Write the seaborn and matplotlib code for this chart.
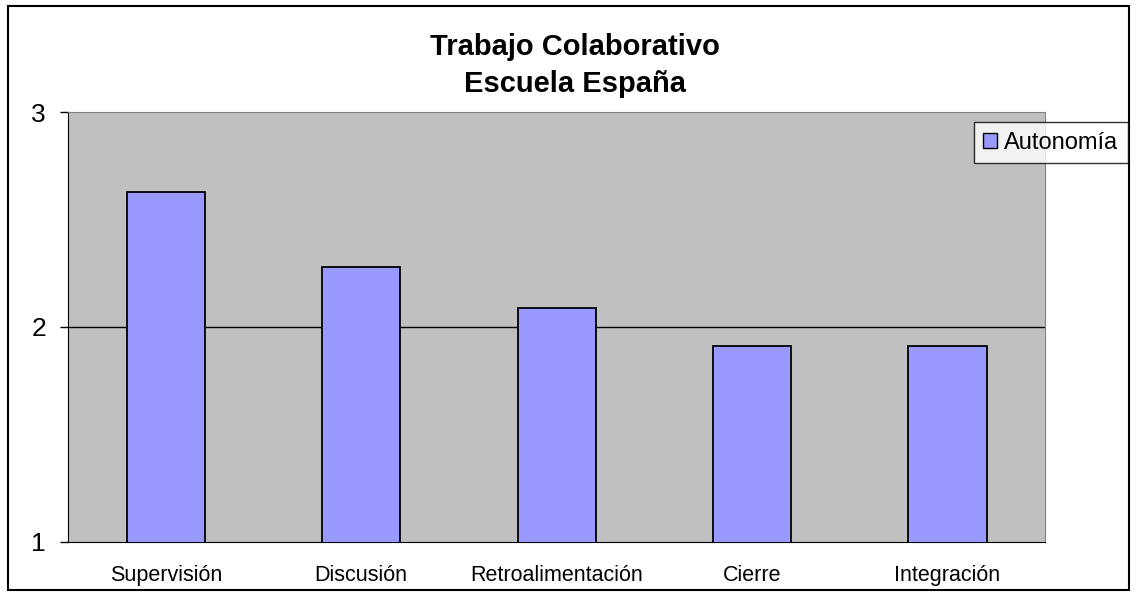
# -*- coding: UTF-8 -*-
import matplotlib
matplotlib.use("Agg")
import matplotlib.pyplot as plt
import matplotlib.patches as mpatches
import seaborn as sns

sns.set_style("white")
plt.rcParams['font.family'] = ['Liberation Sans', 'DejaVu Sans']
plt.rcParams['text.color'] = 'black'
plt.rcParams['xtick.color'] = 'black'
plt.rcParams['ytick.color'] = 'black'

categorias = ['Supervisión', 'Discusión', 'Retroalimentación', 'Cierre', 'Integración']
autonomia = [2.63, 2.28, 2.09, 1.91, 1.91]
serie = 'Autonomía'

fig = plt.figure(figsize=(11.36, 5.96), dpi=100)
ax = fig.add_axes([0.060, 0.091, 0.860, 0.721])

sns.barplot(x=categorias, y=autonomia, color='#9999FF', edgecolor='black',
            linewidth=1.3, width=0.4, saturation=1, ax=ax, zorder=3)

ax.set_facecolor('#C0C0C0')
ax.set_ylim(1, 3)
ax.set_xlim(-0.5, len(categorias) - 0.5)
ax.set_yticks([1, 2, 3])
ax.axhline(2, color='black', lw=1, zorder=2)

# ticks de categoria en los limites
ax.set_xticks(range(len(categorias)))
ax.set_xticklabels(categorias, fontsize=15.5)
ax.set_xticks([i - 0.5 for i in range(len(categorias) + 1)], minor=True)
ax.tick_params(axis='x', which='major', length=0, pad=17)
ax.tick_params(axis='x', which='minor', length=6, width=1, color='black', direction='out')
ax.tick_params(axis='y', length=6, width=1, color='black', direction='out',
               labelsize=19, left=True, pad=10)

for s in ['top', 'right']:
    ax.spines[s].set_color('#808080')
for s in ['left', 'bottom']:
    ax.spines[s].set_color('black')

fig.suptitle('Trabajo Colaborativo\nEscuela España', fontsize=21,
             fontweight='bold', x=0.506, y=0.945, linespacing=1.4)

h = mpatches.Patch(facecolor='#9999FF', edgecolor='black', label=serie)
leg = fig.legend(handles=[h], loc='upper left', bbox_to_anchor=(0.857, 0.795),
                 fontsize=17, frameon=True, fancybox=False, handlelength=0.6,
                 handleheight=0.6, handletextpad=0.3, borderpad=0.4,
                 borderaxespad=0)
leg.get_frame().set_edgecolor('black')
leg.get_frame().set_linewidth(1)

fig.patches.append(mpatches.Rectangle((0.007, 0.01), 0.987, 0.98, transform=fig.transFigure,
                                      fill=False, edgecolor='black', lw=1.5))

fig.savefig('out.png', dpi=100)
